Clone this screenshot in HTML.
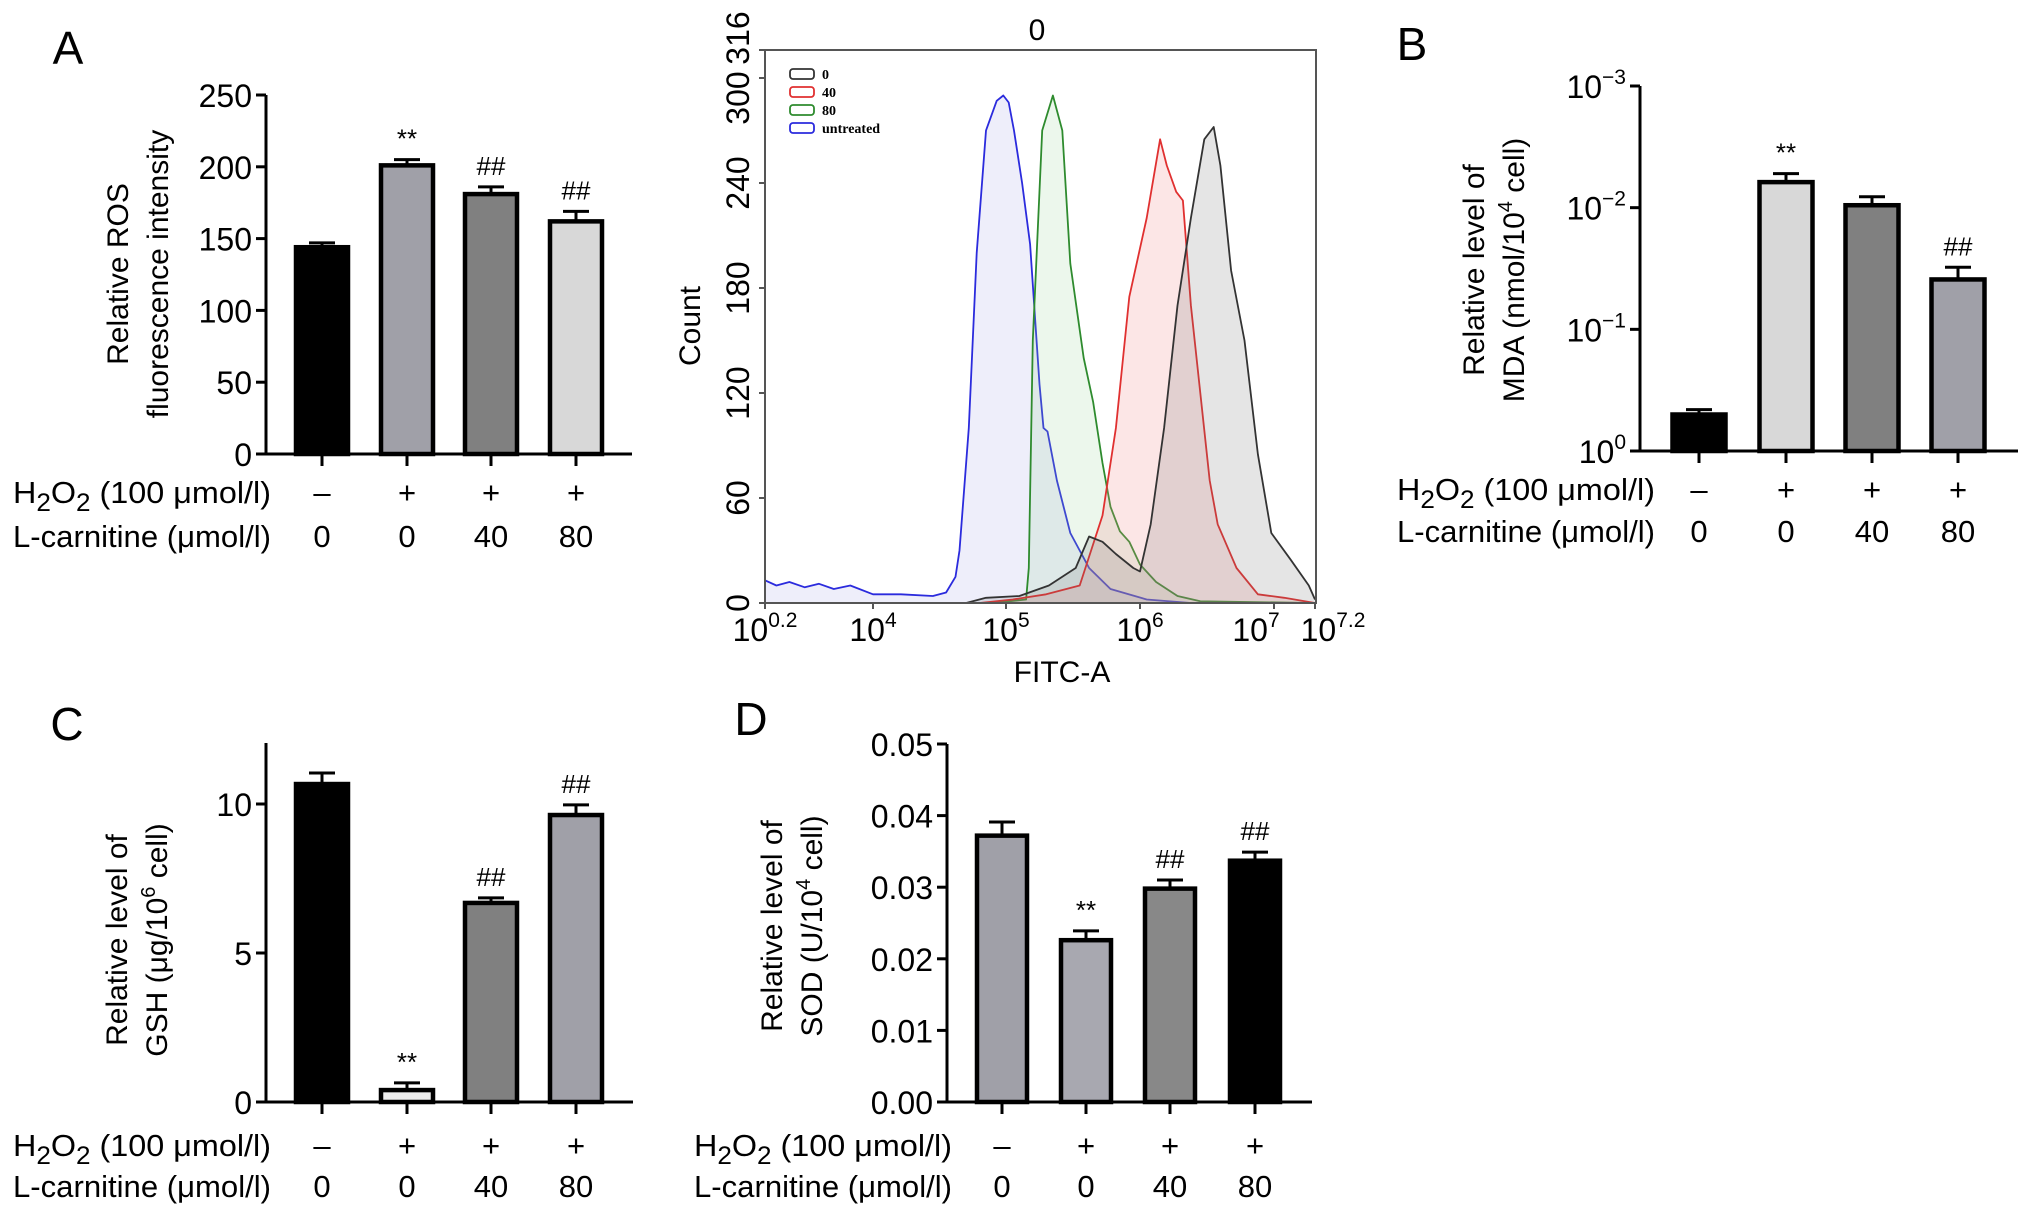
<!DOCTYPE html>
<html><head><meta charset="utf-8"><style>
html,body{margin:0;padding:0;background:#fff;}
svg{display:block;font-family:"Liberation Sans",Arial,sans-serif;}
</style></head><body>
<svg id="fig" xmlns="http://www.w3.org/2000/svg" width="2032" height="1216" viewBox="0 0 2032 1216"></svg>
<script>
// ---- Panel data ----
const groupH2O2 = ["–","+","+","+"];
const groupCarn = ["0","0","40","80"];
const rosValues = [144, 201, 181, 162];
const rosErrors = [3, 4, 5, 7];
const rosMarks = ["", "**", "##", "##"];
const rosTicks = [0,50,100,150,200,250];
const mdaLevels = [0.30, 2.21, 2.02, 1.41];
const mdaErrors = [0.04, 0.07, 0.07, 0.10];
const mdaMarks = ["", "**", "", "##"];
const mdaTicks = [0,1,2,3];
const mdaTickExp = ["0","−1","−2","−3"];
const gshValues = [10.67, 0.40, 6.68, 9.63];
const gshErrors = [0.37, 0.24, 0.17, 0.34];
const gshMarks = ["", "**", "##", "##"];
const gshTicks = [0,5,10];
const sodValues = [0.0372, 0.0226, 0.0298, 0.0337];
const sodErrors = [0.0019, 0.0013, 0.0012, 0.0012];
const sodMarks = ["", "**", "##", "##"];
const sodTicks = [0,0.01,0.02,0.03,0.04,0.05];
// flow cytometry histograms: [log10 FITC, count]
const flowTickLogs = [0.2,4,5,6,7,7.2];
const flowTickExp = ["0.2","4","5","6","7","7.2"];
const countTicks = [0,60,120,180,240,300,316];
const curveUntreated = [[0.2,13],[0.6,10],[1.06,12],[1.6,9],[2.1,11],[2.62,8],[3.2,10],[4,5],[4.21,5],[4.45,4],[4.55,6],[4.62,15],[4.65,30],[4.72,100],[4.78,200],[4.85,270],[4.93,287],[4.98,290],[5.02,286],[5.06,270],[5.12,240],[5.18,205],[5.25,125],[5.28,100],[5.31,98],[5.38,70],[5.48,40],[5.62,20],[5.78,8],[6.05,2],[6.38,0],[7.2,0]];
const curve80 = [[4.9,0],[5.15,2],[5.17,20],[5.2,150],[5.27,270],[5.35,290],[5.42,270],[5.48,194],[5.58,140],[5.65,115],[5.72,80],[5.78,55],[5.85,41],[5.92,35],[6.0,22],[6.12,12],[6.28,4],[6.45,1],[7.2,0]];
const curve40 = [[4.8,0],[5.05,2],[5.3,5],[5.55,10],[5.72,50],[5.82,100],[5.92,175],[6.05,220],[6.15,265],[6.2,250],[6.27,235],[6.32,230],[6.38,170],[6.45,120],[6.52,70],[6.58,45],[6.72,20],[6.88,5],[7.05,3],[7.2,0]];
const curve0 = [[4.7,0],[4.85,3],[5.1,4],[5.32,10],[5.52,20],[5.62,38],[5.72,35],[5.82,28],[5.95,20],[6.0,18],[6.08,45],[6.18,100],[6.28,170],[6.38,220],[6.48,265],[6.55,272],[6.6,250],[6.68,190],[6.78,150],[6.88,85],[6.98,40],[7.08,25],[7.17,10],[7.2,2]];

const NS="http://www.w3.org/2000/svg";
const svg=document.getElementById('fig');
const TICK=32, ROW=31, TITLE=30;
function el(tag,attrs,parent){const e=document.createElementNS(NS,tag);for(const k in attrs)e.setAttribute(k,attrs[k]);(parent||svg).appendChild(e);return e;}
function txt(x,y,s,size,anchor,parent){const t=el('text',{x:x,y:y,'font-size':size,'text-anchor':anchor||'middle',fill:'#000'},parent);t.textContent=s;return t;}

function panelLetter(x,y,s){const t=txt(x,y,s,46,'middle');}

function rowLabels(g,x,yH,yC,centers){
  const t1=el('text',{x:x,y:yH,'font-size':ROW,fill:'#000',textLength:258,lengthAdjust:'spacingAndGlyphs'},g);
  
  
  t1.innerHTML='H<tspan dy="8" font-size="25">2</tspan><tspan dy="-8">O</tspan><tspan dy="8" font-size="25">2</tspan><tspan dy="-8"> (100 μmol/l)</tspan>';
  const t2=el('text',{x:x,y:yC,'font-size':ROW,fill:'#000',textLength:258,lengthAdjust:'spacingAndGlyphs'},g);
  t2.textContent='L-carnitine (μmol/l)';
  
  
  centers.forEach((c,i)=>{
    const a=txt(c,yH,groupH2O2[i],ROW,'middle',g);
    
    
    const b=txt(c,yC,groupCarn[i],ROW,'middle',g);
    
    
  });
}

function barPanel(o){
  const g=el('g',{});
  
  
  const y=v=>o.y0-(v-o.vmin)/(o.vmax-o.vmin)*(o.y0-o.y1);
  const ya=el('line',{x1:o.ax,y1:o.axTop,x2:o.ax,y2:o.y0,stroke:'#000','stroke-width':3},g);
  
  
  const xa=el('line',{x1:o.ax-8,y1:o.y0,x2:o.axRight,y2:o.y0,stroke:'#000','stroke-width':3},g);
  
  
  o.ticks.forEach((v,i)=>{
    el('line',{x1:o.ax-10,y1:y(v),x2:o.ax,y2:y(v),stroke:'#000','stroke-width':3},g);
    let t;
    if(o.expLabels){
      t=el('text',{x:o.ax-14,y:y(v)+12,'font-size':TICK,'text-anchor':'end',fill:'#000'},g);
      t.innerHTML='10<tspan dy="-14" font-size="21">'+o.expLabels[i]+'</tspan>';
    } else t=txt(o.ax-14,y(v)+12,o.fmt(v),TICK,'end',g);
    
    
  });
  o.values.forEach((v,i)=>{
    const c=o.centers[i], w=o.bw;
    const top=y(v), et=y(v+o.errors[i]);
    const eb=el('line',{x1:c,y1:top,x2:c,y2:et,stroke:'#000','stroke-width':3},g);
    
    
    el('line',{x1:c-13,y1:et,x2:c+13,y2:et,stroke:'#000','stroke-width':3},g);
    const r=el('rect',{x:c-w/2+2,y:top,width:w-4,height:o.y0-top,fill:o.colors[i],stroke:'#000','stroke-width':4.5},g);
    
    
    el('line',{x1:c,y1:o.y0,x2:c,y2:o.y0+12,stroke:'#000','stroke-width':3},g);
    if(o.marks[i]){const m=txt(c,et-12,o.marks[i],26,'middle',g);}
  });
  const yt=el('text',{transform:`translate(${o.tx},${o.ty}) rotate(-90)`,'font-size':TITLE,'text-anchor':'middle',fill:'#000'},g);
  
  
  yt.innerHTML=`<tspan x="0" dy="0">${o.title1}</tspan><tspan x="0" dy="40">${o.title2}</tspan>`;
  rowLabels(g,o.rowX,o.rowH,o.rowC,o.centers);
}

panelLetter(68,64,'A');
barPanel({name:'ros-chart',ax:266,axTop:95,axRight:632,y0:454,y1:95,vmin:0,vmax:250,ticks:rosTicks,fmt:v=>String(v),
  values:rosValues,errors:rosErrors,marks:rosMarks,centers:[322,407,491,576],bw:56,
  colors:['#000','#a0a0a8','#808080','#d8d8d8'],tx:128,ty:274,title1:'Relative ROS',title2:'fluorescence intensity',rowX:13,rowH:503,rowC:547});

panelLetter(1412,60,'B');
barPanel({name:'mda-chart',ax:1640,axTop:86,axRight:2018,y0:451,y1:86,vmin:0,vmax:3,ticks:mdaTicks,expLabels:mdaTickExp,
  values:mdaLevels,errors:mdaErrors,marks:mdaMarks,centers:[1699,1786,1872,1958],bw:57,
  colors:['#000','#d8d8d8','#808080','#a0a0a8'],tx:1484,ty:270,title1:'Relative level of',title2:'MDA (nmol/10<tspan dy="-12" font-size="20">4</tspan><tspan dy="12"> cell)</tspan>',rowX:1397,rowH:500,rowC:542});

panelLetter(67,740,'C');
barPanel({name:'gsh-chart',ax:266,axTop:743,axRight:633,y0:1102,y1:804,vmin:0,vmax:10,ticks:gshTicks,fmt:v=>String(v),
  values:gshValues,errors:gshErrors,marks:gshMarks,centers:[322,407,491,576],bw:56,
  colors:['#000','#eeeeee','#808080','#a0a0a8'],tx:127,ty:940,title1:'Relative level of',title2:'GSH (μg/10<tspan dy="-12" font-size="20">6</tspan><tspan dy="12"> cell)</tspan>',rowX:13,rowH:1156,rowC:1197});

panelLetter(751,735,'D');
barPanel({name:'sod-chart',ax:947,axTop:744,axRight:1312,y0:1102,y1:744,vmin:0,vmax:0.05,ticks:sodTicks,fmt:v=>v.toFixed(2),
  values:sodValues,errors:sodErrors,marks:sodMarks,centers:[1002,1086,1170,1255],bw:54,
  colors:['#a0a0a8','#a8a8b0','#888888','#000'],tx:782,ty:926,title1:'Relative level of',title2:'SOD (U/10<tspan dy="-12" font-size="20">4</tspan><tspan dy="12"> cell)</tspan>',rowX:694,rowH:1156,rowC:1197});

// ---- Flow histogram ----
(function(){
  const g=el('g',{});
  
  
  const L=765,R=1316,T=50,B=603;
  const px=[765,873,1006,1140,1274,1315];
  const xs=l=>{for(let i=0;i<flowTickLogs.length-1;i++){if(l<=flowTickLogs[i+1]){const a=flowTickLogs[i],b=flowTickLogs[i+1];return px[i]+(l-a)/(b-a)*(px[i+1]-px[i]);}}return px[px.length-1];};
  const ys=c=>B-c/316*(B-T);
  const curves=[[curveUntreated,'#2b2bdd','rgba(160,160,230,0.18)','curve-untreated'],[curve80,'#2e8b2e','rgba(150,210,150,0.18)','curve-80'],[curve40,'#e03030','rgba(240,140,140,0.22)','curve-40'],[curve0,'#333','rgba(110,110,110,0.18)','curve-0']];
  curves.forEach(([d,col,fill,nm])=>{
    let p='M'+xs(d[0][0]).toFixed(1)+','+B;
    d.forEach(q=>{p+=' L'+xs(q[0]).toFixed(1)+','+ys(q[1]).toFixed(1);});
    p+=' L'+xs(d[d.length-1][0]).toFixed(1)+','+B+' Z';
    const f=el('path',{d:p,fill:fill,stroke:'none'},g);
    
    
    let lp='';
    d.forEach((q,i)=>{lp+=(i?' L':'M')+xs(q[0]).toFixed(1)+','+ys(q[1]).toFixed(1);});
    const l=el('path',{d:lp,fill:'none',stroke:col,'stroke-width':1.8,'stroke-linejoin':'round'},g);
    
    
  });
  const box=el('rect',{x:L,y:T,width:R-L,height:B-T,fill:'none',stroke:'#555','stroke-width':2},g);
  
  
  countTicks.forEach(c=>{
    el('line',{x1:L-6,y1:ys(c),x2:L,y2:ys(c),stroke:'#555','stroke-width':2},g);
    const yy=c===316?38:(c===300?ys(c)+20:ys(c));
    const t=el('text',{transform:`translate(${L-16},${yy}) rotate(-90)`,'font-size':TICK,'text-anchor':'middle',fill:'#000'},g);
    t.textContent=String(c);
    
    
  });
  flowTickLogs.forEach((l,i)=>{
    el('line',{x1:xs(l),y1:B,x2:xs(l),y2:B+6,stroke:'#555','stroke-width':2},g);
    const t=el('text',{x:xs(l)+(i==4?-18:i==5?18:0),y:B+38,'font-size':TICK,'text-anchor':'middle',fill:'#000'},g);
    t.innerHTML='10<tspan dy="-14" font-size="21">'+flowTickExp[i]+'</tspan>';
    
    
  });
  const xt=txt(1062,682,'FITC-A',TITLE,'middle',g);
  
  
  const yt=el('text',{transform:'translate(700,326) rotate(-90)','font-size':TITLE,'text-anchor':'middle',fill:'#000'},g);
  yt.textContent='Count';
  
  
  const tt=txt(1037,40,'0',TITLE,'middle',g);
  
  
  const leg=[['0','#333'],['40','#e03030'],['80','#2e8b2e'],['untreated','#2b2bdd']];
  const lg=el('g',{},g);
  
  
  leg.forEach(([s,c],i)=>{
    const yy=74+i*18;
    const r=el('rect',{x:790,y:yy-5,width:24,height:10,rx:3,fill:'none',stroke:c,'stroke-width':1.8},lg);
    
    
    const t=el('text',{x:822,y:yy+5,'font-size':14,'font-family':'"Liberation Serif",serif','font-weight':'bold',fill:'#000'},lg);
    t.textContent=s;
    
    
  });
})();
</script>
</body></html>
